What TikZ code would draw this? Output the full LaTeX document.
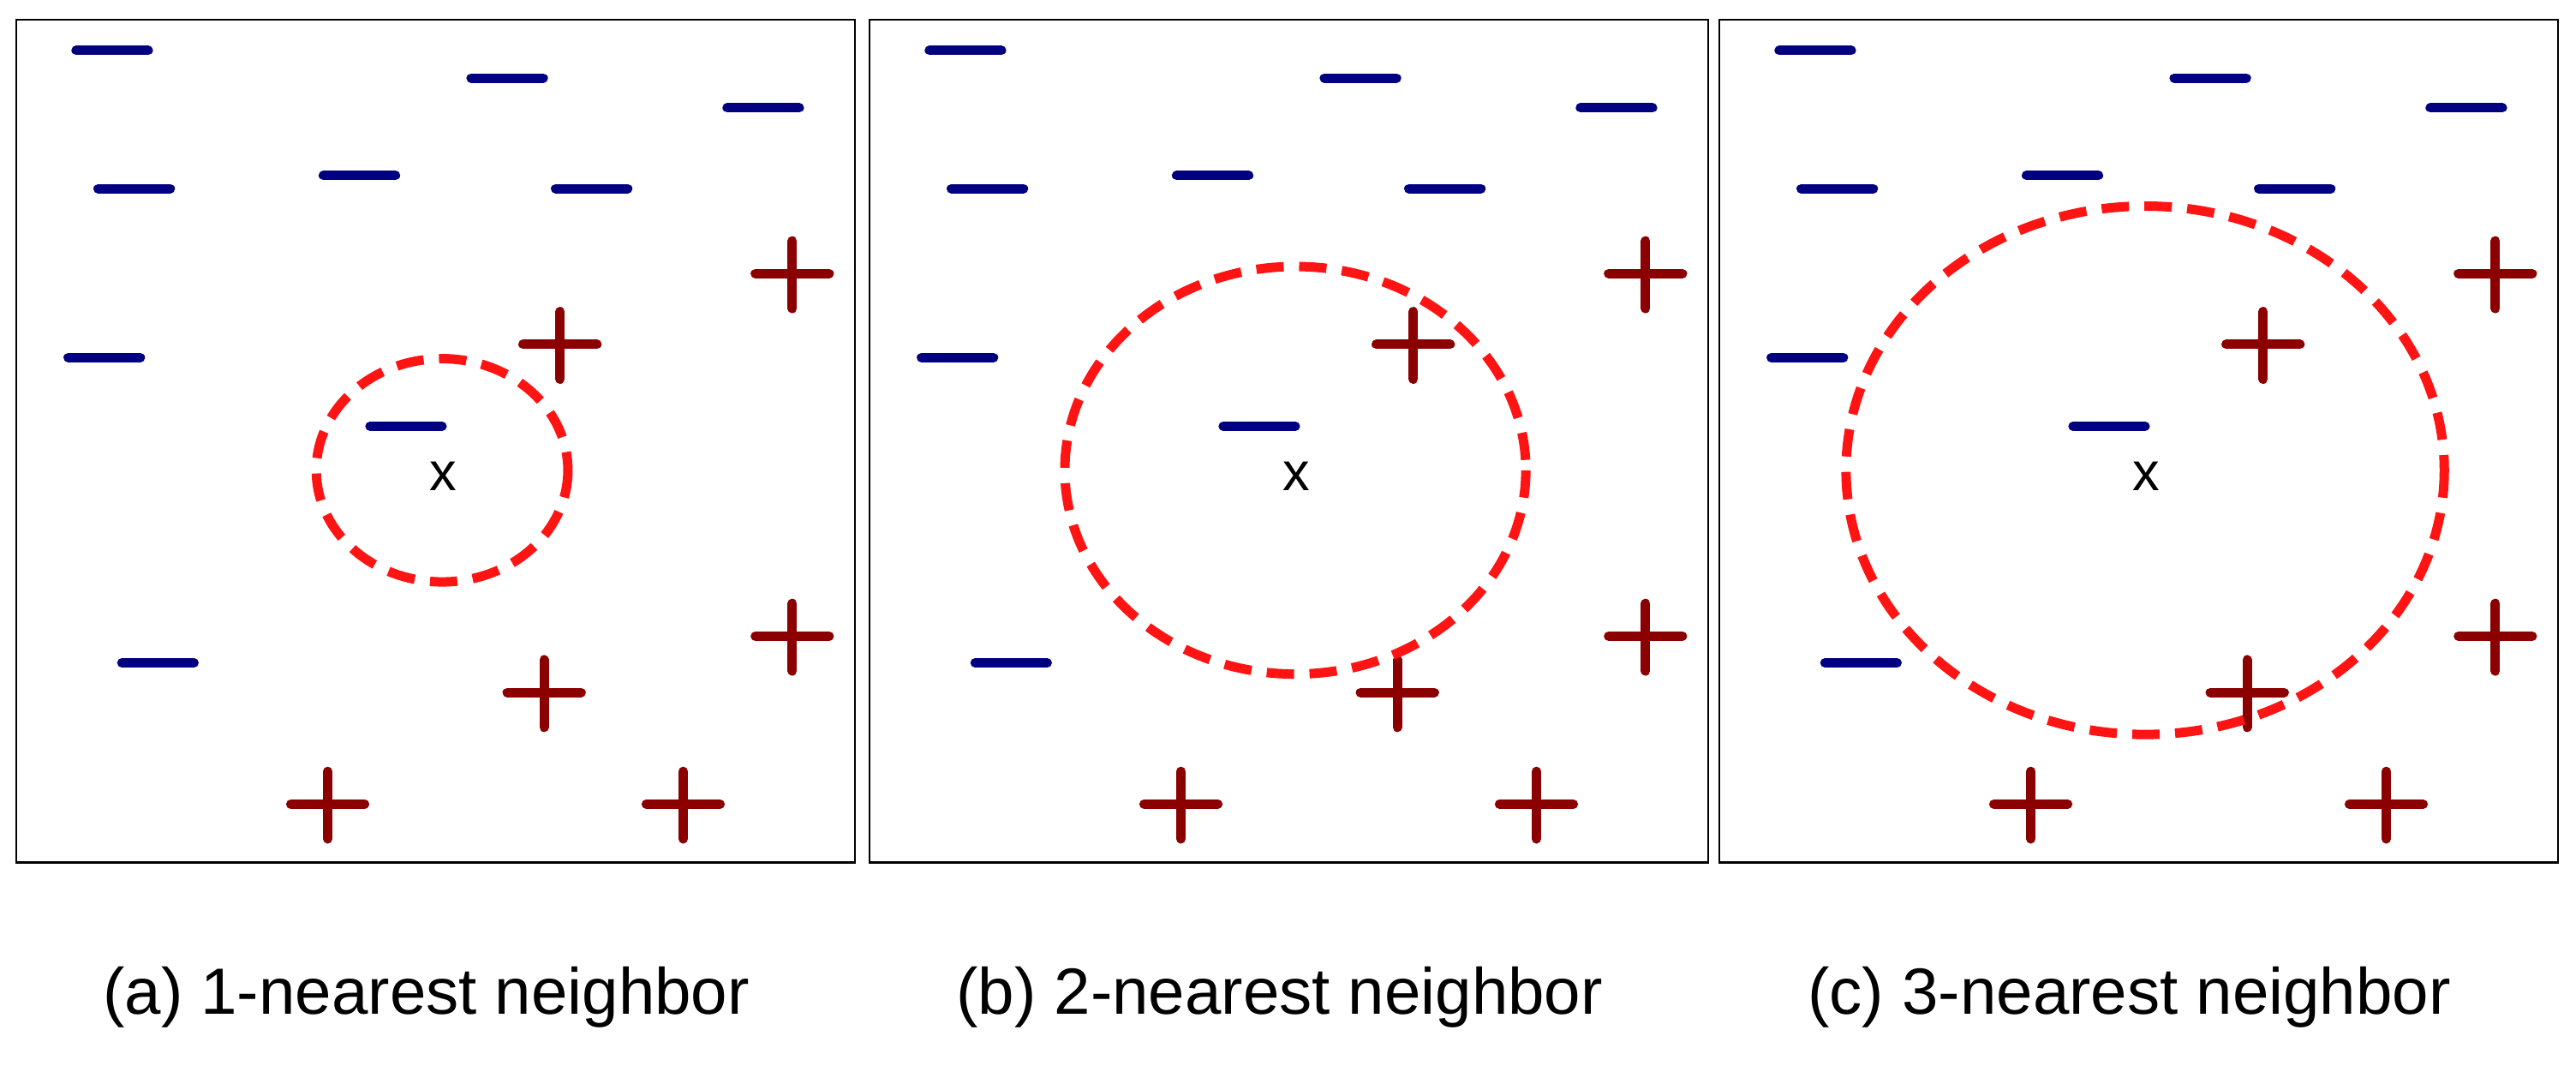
\documentclass[tikz,border=0pt]{standalone}
\usepackage{fontspec}
\setmainfont{Liberation Sans}
\usetikzlibrary{positioning}
\definecolor{negblue}{RGB}{0,0,128}
\definecolor{posred}{RGB}{139,0,0}
\definecolor{ballred}{RGB}{255,20,20}

\begin{document}
\begin{tikzpicture}[
    x=1cm, y=-1cm,
    panel/.style={draw, line width=0.6pt},
    negsample/.style={negblue, line width=0.11cm, line cap=round},
    possample/.style={posred, line width=0.11cm, line cap=round},
    ball/.style={ballred, line width=0.11cm, dash pattern=on 0.32cm off 0.18cm},
    caption/.style={font=\fontsize{21.7}{26}\selectfont},
    query/.style={font=\fontsize{18}{20}\selectfont},
]
\useasboundingbox (0,0) rectangle (30.07,12.43);

% three panels: x offset / k / letter / radius x / radius y
\foreach \ox/\k/\lt/\rx/\ry in {0.19/1/a/1.43/1.09, 10.15/2/b/2.62/1.99, 20.07/3/c/3.40/2.58}{
  \begin{scope}[shift={(\ox,0.23)}, xscale=1.027, yscale=1.195]
    \draw[panel] (0,0) rectangle (9.53,8.23);
    % negative samples
    \foreach \px/\py in {1.09/0.30, 5.58/0.57, 8.49/0.86, 1.34/1.65, 3.90/1.52,
                         6.54/1.65, 1.00/3.30, 4.43/3.97, 1.61/6.28}
      \draw[negsample] (\px-0.41,\py) -- (\px+0.41,\py);
    % positive samples
    \foreach \px/\py in {8.82/2.48, 6.18/3.17, 8.82/6.02, 6.00/6.57, 3.54/7.66, 7.58/7.66}{
      \draw[possample] (\px-0.42,\py) -- (\px+0.42,\py);
      \draw[possample] (\px,\py-0.32) -- (\px,\py+0.34);
    }
    % query point and neighbourhood
    \node[query] (q\lt) at (4.85,4.46) {x};
    \draw[ball] (4.84,4.40) ellipse [x radius=\rx, y radius=\ry];
    \node[caption] (cap\lt) at (4.66,9.55) {(\lt) \k-nearest neighbor};
  \end{scope}
}
\end{tikzpicture}
\end{document}
